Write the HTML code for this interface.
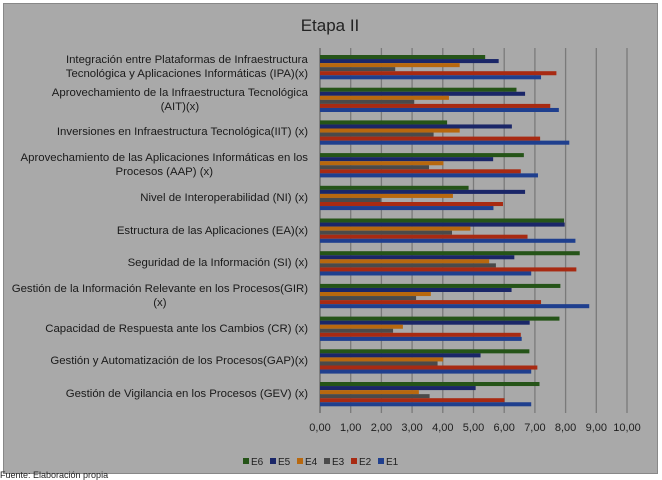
<!DOCTYPE html>
<html><head><meta charset="utf-8"><style>
body{margin:0;background:#fff;width:662px;height:478px;overflow:hidden;font-family:"Liberation Sans",sans-serif}
#frame{position:absolute;left:3px;top:3px;width:653px;height:469px;background:#a9a9a9;border:1px solid #888}
.lbl{position:absolute;right:354px;width:330px;text-align:right;font-size:11.4px;line-height:14px;color:#1a1a1a}
.lbl span{display:inline-block;text-align:center}
</style></head><body>
<div id="frame"></div>
<svg id="c" width="662" height="478" style="position:absolute;left:0;top:0"></svg>
<div id="labels"></div>
<div style="position:absolute;left:0;top:470px;font-size:9px;color:#222">Fuente: Elaboración propia</div>
<script>
const categories=["Integración entre Plataformas de Infraestructura<br>Tecnológica y Aplicaciones Informáticas (IPA)(x)","Aprovechamiento de la Infraestructura Tecnológica<br>(AIT)(x)","Inversiones en Infraestructura Tecnológica(IIT) (x)","Aprovechamiento de las Aplicaciones Informáticas en los<br>Procesos (AAP) (x)","Nivel de Interoperabilidad (NI) (x)","Estructura de las Aplicaciones (EA)(x)","Seguridad de la Información (SI) (x)","Gestión de la Información Relevante en los Procesos(GIR)<br>(x)","Capacidad de Respuesta ante los Cambios (CR)  (x)","Gestión y Automatización de los Procesos(GAP)(x)","Gestión de Vigilancia en los Procesos (GEV) (x)"];
const seriesNames=["E6","E5","E4","E3","E2","E1"];
const E6=[5.38,6.4,4.14,6.64,4.84,7.95,8.46,7.83,7.8,6.82,7.15];
const E5=[5.82,6.68,6.25,5.64,6.68,7.97,6.33,6.24,6.83,5.23,5.07];
const E4=[4.55,4.2,4.55,4.02,4.33,4.9,5.51,3.61,2.7,4.01,3.22];
const E3=[2.45,3.07,3.7,3.55,1.98,4.3,5.73,3.13,2.38,3.83,3.57];
const E2=[7.7,7.5,7.17,6.54,5.96,6.76,8.35,7.2,6.54,7.08,6.01];
const E1=[7.2,7.78,8.12,7.1,5.65,8.32,6.88,8.77,6.57,6.88,6.88];
const ticks=["0,00","1,00","2,00","3,00","4,00","5,00","6,00","7,00","8,00","9,00","10,00"];
const series=[E6,E5,E4,E3,E2,E1];
const colors=["#255418","#1a2668","#b8680e","#4a4a4a","#a82a12","#1f3f8e"];
const x=v=>320+v*30.7, top0=55, pitch=32.7, bh=4.05;
const svg=document.getElementById('c'), NS="http://www.w3.org/2000/svg";
function mk(t,a){const e=document.createElementNS(NS,t);for(const k in a)e.setAttribute(k,a[k]);svg.appendChild(e);return e;}
ticks.forEach((t,i)=>{
 const g=mk('line',{x1:x(i),x2:x(i),y1:48,y2:413,stroke:i==0?'#666':'#7a7a7a','stroke-width':1.3});
 
 
 const tx=mk('text',{x:x(i),y:431,'text-anchor':'middle','font-size':11,fill:'#1e1e1e'});
 tx.textContent=t;
 
 
});
const lab=document.getElementById('labels');
categories.forEach((c,i)=>{
 series.forEach((s,j)=>{
  const r=mk('rect',{x:320,y:top0+i*pitch+j*bh,width:x(s[i])-320,height:bh,fill:colors[j]});
  
  
 });
 const d=document.createElement('div');d.className='lbl';
 const lines=c.split('<br>').length;
 d.style.top=(top0+i*pitch+12-lines*7)+'px';
 d.innerHTML='<span>'+c+'</span>';
 
 
 lab.appendChild(d);
});
const tt=mk('text',{x:330,y:31,'text-anchor':'middle','font-size':17,fill:'#222'});
tt.textContent="Etapa II";


seriesNames.forEach((n,j)=>{
 const lx=243+j*27;
 const r=mk('rect',{x:lx,y:458,width:6,height:6,fill:colors[j]});
 
 
 const t=mk('text',{x:lx+8,y:465,'font-size':10,fill:'#1e1e1e'});
 t.textContent=n;
 
 
});
</script>
</body></html>
